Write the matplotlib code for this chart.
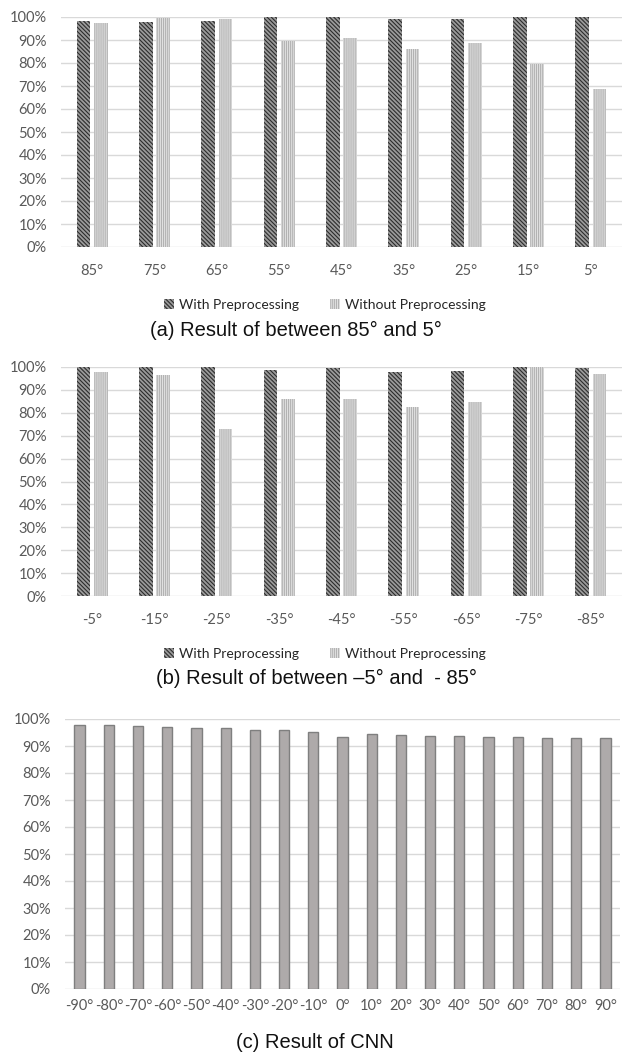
import numpy as np
import matplotlib
matplotlib.use("Agg")
import matplotlib.pyplot as plt
from matplotlib.patches import Patch
from matplotlib.ticker import PercentFormatter

plt.rcParams['font.family'] = ['Lato', 'DejaVu Sans']
plt.rcParams['hatch.linewidth'] = 0.8

# accuracy (%) for positive angles
pos_angles = ['85°', '75°', '65°', '55°', '45°', '35°', '25°', '15°', '5°']
pos_with = [98.3, 97.8, 98.4, 99.8, 100.0, 99.1, 99.0, 100.0, 99.8]
pos_without = [97.4, 99.4, 99.1, 89.7, 90.7, 86.1, 88.6, 79.6, 68.6]

# accuracy (%) for negative angles
neg_angles = ['-5°', '-15°', '-25°', '-35°', '-45°', '-55°', '-65°', '-75°', '-85°']
neg_with = [100.0, 100.0, 100.0, 98.6, 99.6, 98.0, 98.4, 100.0, 99.5]
neg_without = [98.0, 96.6, 72.8, 86.2, 85.9, 82.6, 84.7, 100.0, 97.0]

# CNN accuracy (%) over the full angle range
cnn_angles = ['-90°', '-80°', '-70°', '-60°', '-50°', '-40°', '-30°', '-20°', '-10°', '0°',
              '10°', '20°', '30°', '40°', '50°', '60°', '70°', '80°', '90°']
cnn_acc = [97.9, 97.9, 97.4, 97.2, 96.8, 96.8, 96.0, 95.8, 95.1, 93.4,
           94.4, 94.1, 93.8, 93.6, 93.3, 93.3, 93.0, 93.0, 93.0]

W, H = 635, 1055
TXT = '#595959'
GRID = '#d9d9d9'
CAP_FONT = ['Liberation Sans Narrow', 'Liberation Sans', 'DejaVu Sans']

# hatch styles for the two series
DARK = dict(facecolor='#9a9a9a', edgecolor='#2c2c2c', hatch='\\' * 8, lw=0)
LIGHT = dict(facecolor='#e2e2e2', edgecolor='#b2b2b2', hatch='|' * 8, lw=0)

fig = plt.figure(figsize=(W / 100, H / 100), dpi=100)


def axes_px(left, top, right, bottom):
    return fig.add_axes([left / W, 1 - bottom / H, (right - left) / W, (bottom - top) / H])


def style_axes(ax, labels, xpad):
    ax.set_ylim(0, 100)
    ax.set_yticks(np.arange(0, 101, 10))
    ax.yaxis.set_major_formatter(PercentFormatter(decimals=0))
    ax.set_xticks(np.arange(len(labels)))
    ax.set_xticklabels(labels)
    ax.set_xlim(-0.5, len(labels) - 0.5)
    ax.grid(axis='y', color=GRID, lw=1)
    ax.set_axisbelow(True)
    for s in ax.spines.values():
        s.set_visible(False)
    ax.tick_params(length=0, colors=TXT, labelsize=10.5)
    ax.tick_params(axis='y', pad=10)
    ax.tick_params(axis='x', pad=xpad)


def paired_bars(ax, labels, with_vals, without_vals):
    x = np.arange(len(labels))
    w = 0.22
    ax.bar(x - 0.14, with_vals, w, **DARK)
    ax.bar(x + 0.14, without_vals, w, **LIGHT)
    style_axes(ax, labels, 12)


def legend_at(y):
    handles = [Patch(label='With Preprocessing', **DARK),
               Patch(label='Without Preprocessing', **LIGHT)]
    fig.legend(handles=handles, loc='center', bbox_to_anchor=(325 / W, 1 - y / H),
               ncol=2, frameon=False, handlelength=0.7, handleheight=0.7,
               handletextpad=0.4, columnspacing=2.2, fontsize=10, labelcolor='#262626')


ax1 = axes_px(61, 17, 622, 247)
paired_bars(ax1, pos_angles, pos_with, pos_without)
legend_at(305)
fig.text(296 / W, 1 - 330 / H, '(a) Result of between 85° and 5°', ha='center',
         va='center', fontsize=14.5, family=CAP_FONT, color='#111111')

ax2 = axes_px(61, 367, 622, 596)
paired_bars(ax2, neg_angles, neg_with, neg_without)
legend_at(654)
fig.text(316 / W, 1 - 678 / H, '(b) Result of between \u20135° and  - 85°', ha='center',
         va='center', fontsize=14.5, family=CAP_FONT, color='#111111')

ax3 = axes_px(65, 719, 620, 989)
ax3.bar(np.arange(len(cnn_angles)), cnn_acc, 0.35, color='#aeaaaa', edgecolor='#7f7f7f', lw=1)
style_axes(ax3, cnn_angles, 7)
fig.text(315 / W, 1 - 1042 / H, '(c) Result of CNN', ha='center',
         va='center', fontsize=14.5, family=CAP_FONT, color='#111111')

fig.savefig('out.png', dpi=100)
